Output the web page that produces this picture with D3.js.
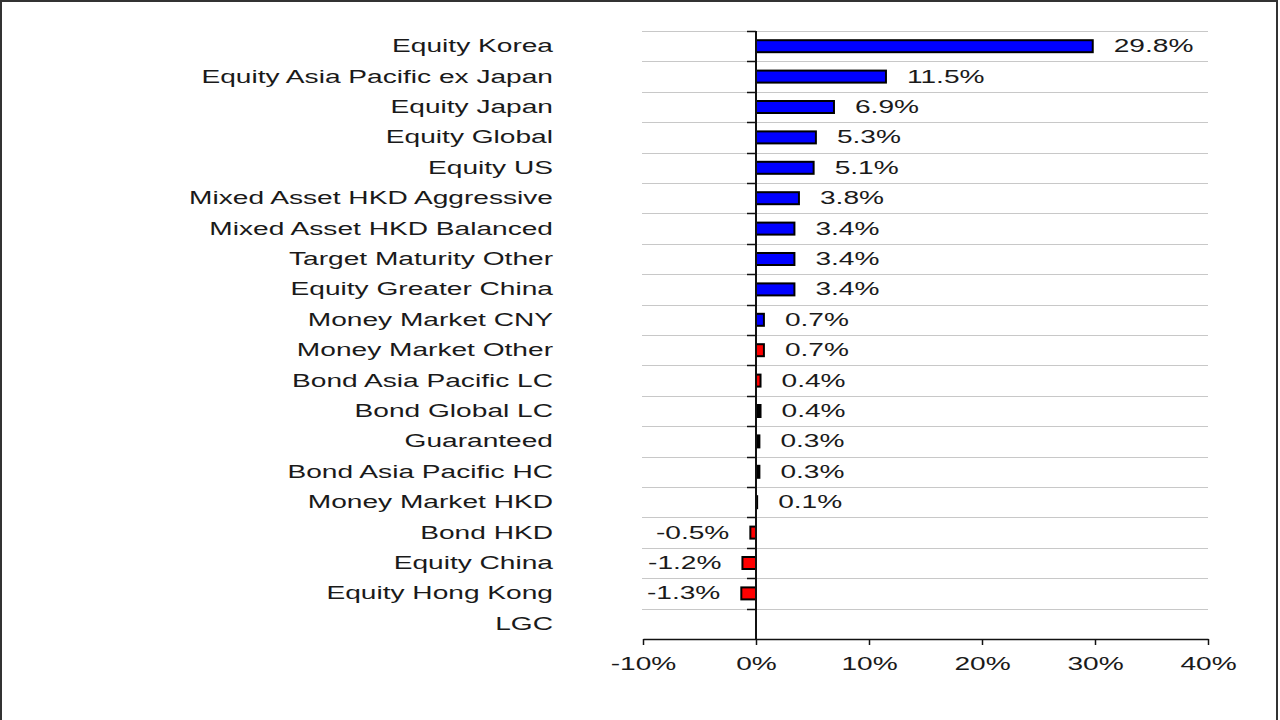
<!DOCTYPE html>
<html>
<head>
<meta charset="utf-8">
<script src="https://cdn.jsdelivr.net/npm/d3@7"></script>
<style>
  html, body { margin: 0; padding: 0; background: #fff; }
  svg { display: block; }
  text { font-family: "Liberation Sans", Arial, sans-serif; fill: #1a1a1a; }
</style>
</head>
<body>
<svg id="chart" width="1280" height="720"></svg>
<script>
// ---- data ----
const categories = [
  "Equity Korea", "Equity Asia Pacific ex Japan", "Equity Japan", "Equity Global",
  "Equity US", "Mixed Asset HKD Aggressive", "Mixed Asset HKD Balanced",
  "Target Maturity Other", "Equity Greater China", "Money Market CNY",
  "Money Market Other", "Bond Asia Pacific LC", "Bond Global LC", "Guaranteed",
  "Bond Asia Pacific HC", "Money Market HKD", "Bond HKD", "Equity China",
  "Equity Hong Kong", "LGC"
];
const values = [29.8, 11.5, 6.9, 5.3, 5.1, 3.8, 3.4, 3.4, 3.4, 0.7,
                 0.7, 0.4, 0.4, 0.3, 0.3, 0.1, -0.5, -1.2, -1.3, null];
const groups = ["B","B","B","B","B","B","B","B","B","B",
                "R","R","K","K","K","K","R","R","R","B"];
const xTicks = [-10, 0, 10, 20, 30, 40];

// ---- layout ----
const svg = d3.select("#chart");
const plot = { left: 643, right: 1208, top: 31, bottom: 639 };
const SX = 1.48; // horizontal text stretch as in reference
const fs = 19;

const x = d3.scaleLinear().domain([-10, 40]).range([plot.left, plot.right]);
const y = d3.scaleBand().domain(categories).range([plot.top, plot.bottom]).paddingInner(0).paddingOuter(0);
const color = d3.scaleOrdinal().domain(["B","R","K"]).range(["#0000ff", "#ff0000", "#000000"]);

// outer frame
svg.append("rect").attr("x", 1).attr("y", 1).attr("width", 1276).attr("height", 740)
  .attr("fill", "none").attr("stroke", "#333").attr("stroke-width", 2);

// horizontal gridlines at band boundaries
const bounds = categories.map(c => y(c));
svg.append("g").selectAll("line").data(bounds).join("line")
  .attr("x1", plot.left - 1).attr("x2", plot.right)
  .attr("y1", d => Math.round(d) + 0.5).attr("y2", d => Math.round(d) + 0.5)
  .attr("stroke", "#c8c8c8").attr("stroke-width", 1);

// bars
const data = categories.map((c, i) => ({ c, v: values[i], g: groups[i] })).filter(d => d.v !== null);
const barH = 12;
svg.append("g").selectAll("rect").data(data).join("rect")
  .attr("x", d => x(Math.min(0, d.v)))
  .attr("width", d => Math.abs(x(d.v) - x(0)))
  .attr("y", d => y(d.c) + y.bandwidth() / 2 - barH / 2)
  .attr("height", barH)
  .attr("fill", d => color(d.g))
  .attr("stroke", "#000").attr("stroke-width", 2);

// vertical zero axis with left ticks
const yAxisG = svg.append("g");
yAxisG.append("line").attr("x1", x(0)).attr("x2", x(0))
  .attr("y1", plot.top).attr("y2", plot.bottom).attr("stroke", "#111").attr("stroke-width", 2);
yAxisG.selectAll("line.tk").data(bounds).join("line").attr("class", "tk")
  .attr("x1", x(0) - 9).attr("x2", x(0))
  .attr("y1", d => Math.round(d) + 0.5).attr("y2", d => Math.round(d) + 0.5)
  .attr("stroke", "#111").attr("stroke-width", 1.5);

// x axis
const xAxis = d3.axisBottom(x).tickValues(xTicks).tickSize(6).tickSizeOuter(0)
  .tickFormat(d => d + "%");
const xg = svg.append("g").attr("transform", `translate(0,${plot.bottom})`).call(xAxis);
xg.select(".domain").attr("stroke", "#111").attr("stroke-width", 1.5);
xg.selectAll(".tick line").attr("stroke", "#111").attr("stroke-width", 1.5);
xg.selectAll(".tick text").remove();
xg.selectAll(".tick").append("text")
  .attr("transform", `translate(0,31) scale(${SX},1)`)
  .attr("text-anchor", "middle")
  .style("font-size", fs + "px")
  .text(d => d + "%");

// category labels
svg.append("g").selectAll("text").data(categories).join("text")
  .attr("transform", d => `translate(553,${y(d) + y.bandwidth() / 2 + 6}) scale(${SX},1)`)
  .attr("text-anchor", "end")
  .style("font-size", fs + "px")
  .text(d => d);

// value labels
const fmt = v => v.toFixed(1) + "%";
svg.append("g").selectAll("text").data(data).join("text")
  .attr("transform", d => {
    const xx = d.v >= 0 ? x(d.v) + 21 : x(d.v) - 21;
    return `translate(${xx},${y(d.c) + y.bandwidth() / 2 + 6}) scale(${SX},1)`;
  })
  .attr("text-anchor", d => d.v >= 0 ? "start" : "end")
  .style("font-size", fs + "px")
  .text(d => fmt(d.v));
</script>
</body>
</html>
